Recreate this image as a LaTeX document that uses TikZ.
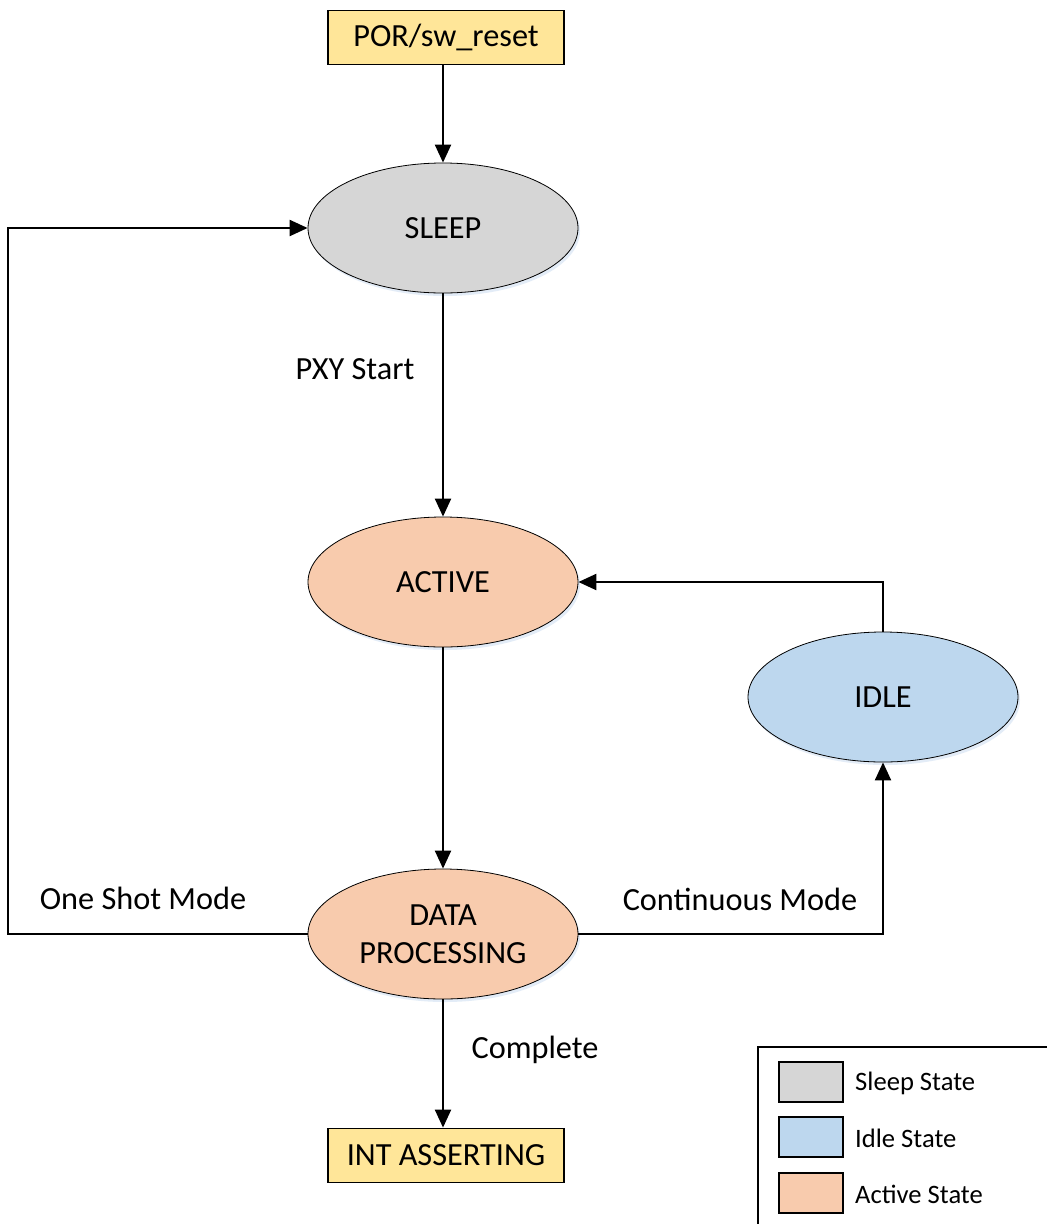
\documentclass[tikz,border=0pt]{standalone}
\usepackage{fontspec}
\setmainfont{Carlito}
\usetikzlibrary{shapes.geometric,arrows.meta,shadows}
\definecolor{sleepc}{HTML}{D6D6D6}
\definecolor{idlec}{HTML}{BDD7EE}
\definecolor{activec}{HTML}{F8CBAD}
\definecolor{boxc}{HTML}{FFE699}
\definecolor{glow}{HTML}{DCE8F5}
\tikzset{
  st/.style={ellipse, draw=black, line width=0.8pt, minimum width=270pt, minimum height=130pt, inner sep=0pt, align=center,
    font=\fontsize{32.3}{38}\selectfont,
    drop shadow={shadow xshift=2pt, shadow yshift=-3pt, fill=glow, opacity=0.8}},
  ybox/.style={rectangle, draw=black, line width=1.8pt, fill=boxc, minimum width=236pt, minimum height=54pt, inner sep=0pt, font=\fontsize{32.3}{38}\selectfont},
  arr/.style={line width=2.2pt, -{Triangle[length=18pt,width=16pt]}},
  lbl/.style={font=\fontsize{32.3}{38}\selectfont, inner sep=0pt},
  swatch/.style={rectangle, draw=black, line width=1.4pt, minimum width=64pt, minimum height=40pt, inner sep=0pt},
  legtxt/.style={font=\fontsize{26.6}{32}\selectfont, inner sep=0pt, anchor=west}
}
\begin{document}
\begin{tikzpicture}[x=1pt,y=-1pt]
\useasboundingbox (0,0) rectangle (1047,1224);
\fill[white] (0,0) rectangle (1047,1224);

\node[ybox] (por) at (446,37.5) {POR/sw\_reset};
\node[st, fill=sleepc] (sleep) at (443,228) {SLEEP};
\node[st, fill=activec] (active) at (443,582) {ACTIVE};
\node[st, fill=idlec] (idle) at (883,697) {IDLE};
\node[st, fill=activec] (data) at (443,934) {DATA\\PROCESSING};
\node[ybox] (int) at (446,1155.5) {INT ASSERTING};

\coordinate (lc) at (8,934);

\draw[arr] (sleep.north |- por.south) -- (sleep.north);
\draw[arr] (sleep) -- (active);
\draw[arr] (active) -- (data);
\draw[arr] (data.south) -- (data.south |- int.north);
\draw[arr] (data.west) -- (lc) |- (sleep.west);
\draw[arr] (idle.north) |- (active.east);
\draw[arr] (data.east) -| (idle.south);

\node[lbl] (l1) at (355,369) {PXY Start};
\node[lbl] (l2) at (143,898) {One Shot Mode};
\node[lbl] (l3) at (740,899) {Continuous Mode};
\node[lbl] (l4) at (535,1050) {Complete};

\begin{scope}
\clip (0,0) rectangle (1047,1224);
\draw[line width=1.4pt] (758,1240) -- (758,1047) -- (1060,1047);
\end{scope}
\node[swatch, fill=sleepc] (s1) at (811,1082) {};
\node[swatch, fill=idlec] (s2) at (811,1137) {};
\node[swatch, fill=activec] (s3) at (811,1193) {};
\node[legtxt] (t1) at (855,1083) {Sleep State};
\node[legtxt] (t2) at (855,1138) {Idle State};
\node[legtxt] (t3) at (855,1194) {Active State};
\end{tikzpicture}
\end{document}
